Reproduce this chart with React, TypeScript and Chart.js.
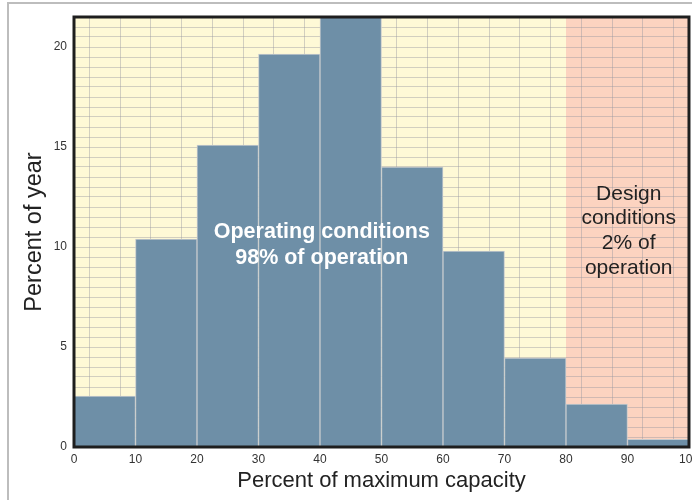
import React, { useEffect, useRef } from "react";
import { Chart, registerables } from "chart.js";

Chart.register(...registerables);

// Bins of percent of maximum capacity (lower edges) and width
const binLower = [0, 10, 20, 30, 40, 50, 60, 70, 80, 90];
const binWidth = 10;
// Percent of year in each bin
const percentOfYear = [2.55, 10.4, 15.1, 19.65, 21.5, 14.0, 9.8, 4.45, 2.15, 0.38];
// Axis ticks
const yTickLabels = [0, 5, 10, 15, 20];
const xTickLabels = [0, 10, 20, 30, 40, 50, 60, 70, 80, 90, 100];
// Zones
const designStart = 80;
const operatingLines = ["Operating conditions", "98% of operation"];
const designLines = ["Design", "conditions", "2% of", "operation"];

const FONT = "'Liberation Sans', Arial, Helvetica, sans-serif";
const GRID = "rgba(150,150,160,0.42)";

export default function App() {
  const ref = useRef<HTMLCanvasElement | null>(null);

  useEffect(() => {
    const canvas = ref.current;
    if (!canvas) return;

    const zonePlugin = {
      id: "zones",
      beforeDraw(chart: any) {
        const { ctx, chartArea, scales } = chart;
        const x = scales.x2;
        const xs = x.getPixelForValue(designStart);
        ctx.save();
        ctx.fillStyle = "#fef9d6";
        ctx.fillRect(chartArea.left, chartArea.top, xs - chartArea.left, chartArea.bottom - chartArea.top);
        ctx.fillStyle = "#fcd3c0";
        ctx.fillRect(xs, chartArea.top, chartArea.right - xs, chartArea.bottom - chartArea.top);
        ctx.restore();
      },
      afterDatasetsDraw(chart: any) {
        const { ctx, chartArea, scales } = chart;
        const x = scales.x2;
        const y = scales.y;
        ctx.save();
        ctx.textAlign = "center";
        ctx.textBaseline = "middle";
        ctx.fillStyle = "#ffffff";
        ctx.font = `bold 21.5px ${FONT}`;
        const ox = x.getPixelForValue(40.3);
        const oy = y.getPixelForValue(10.1);
        const oh = 26;
        operatingLines.forEach((t, i) => {
          ctx.fillText(t, ox, oy + (i - (operatingLines.length - 1) / 2) * oh);
        });
        ctx.fillStyle = "#222222";
        ctx.font = `21px ${FONT}`;
        const dx = x.getPixelForValue(90.2);
        const dy = y.getPixelForValue(10.8);
        const dh = 24.7;
        designLines.forEach((t, i) => {
          ctx.fillText(t, dx, dy + (i - (designLines.length - 1) / 2) * dh);
        });
        ctx.strokeStyle = "#1e1e1e";
        ctx.lineWidth = 3;
        ctx.strokeRect(chartArea.left, chartArea.top, chartArea.right - chartArea.left, chartArea.bottom - chartArea.top);
        ctx.restore();
      },
    };

    const chart = new Chart(canvas, {
      type: "bar",
      data: {
        labels: binLower.map((lo) => `${lo}-${lo + binWidth}`),
        datasets: [
          {
            data: percentOfYear,
            xAxisID: "x",
            backgroundColor: "#6e8fa7",
            borderColor: "#c6cacd",
            borderWidth: { top: 1, left: 1, right: 1, bottom: 0 },
            borderSkipped: "bottom",
            barPercentage: 1,
            categoryPercentage: 1,
          },
        ],
      },
      plugins: [zonePlugin],
      options: {
        responsive: false,
        animation: false,
        layout: { padding: { top: 17, right: 7, left: 0, bottom: 0 } },
        plugins: { legend: { display: false }, tooltip: { enabled: false } },
        scales: {
          x: {
            type: "category",
            display: false,
            offset: true,
          },
          x2: {
            type: "linear",
            position: "bottom",
            min: 0,
            max: 100,
            offset: false,
            afterFit: (s: any) => {
              s.height = 53;
            },
            grid: { color: GRID, lineWidth: 1, drawTicks: false },
            border: { display: false },
            ticks: {
              stepSize: 5,
              autoSkip: false,
              maxRotation: 0,
              padding: 5,
              color: "#333",
              font: { family: FONT, size: 12 },
              callback: (v: any) => (xTickLabels.includes(Number(v)) ? String(v) : ""),
            },
            title: {
              display: true,
              text: "Percent of maximum capacity",
              color: "#222",
              font: { family: FONT, size: 22 },
              padding: { top: 0, bottom: 6 },
            },
          },
          y: {
            min: 0,
            max: 21.5,
            afterFit: (s: any) => {
              s.width = 74;
            },
            grid: { color: GRID, lineWidth: 1, drawTicks: false },
            border: { display: false },
            ticks: {
              stepSize: 0.5,
              autoSkip: false,
              padding: 7,
              color: "#333",
              font: { family: FONT, size: 12 },
              callback: (v: any) => (yTickLabels.includes(Number(v)) ? String(v) : ""),
            },
            title: {
              display: true,
              text: "Percent of year",
              color: "#222",
              font: { family: FONT, size: 23.5 },
              padding: { top: 20, bottom: 0 },
            },
          },
        },
      },
    });
    return () => chart.destroy();
  }, []);

  return (
    <div style={{ position: "fixed", left: 0, top: 0, width: 692, height: 500, overflow: "hidden", background: "#fff" }}>
      <div
        style={{
          position: "absolute",
          left: 7,
          top: 2,
          width: 800,
          height: 800,
          border: "2px solid #bdbdbd",
          boxSizing: "border-box",
        }}
      />
      <canvas ref={ref} width={704} height={500} style={{ position: "absolute", left: 0, top: 0, width: 704, height: 500 }} />
    </div>
  );
}
